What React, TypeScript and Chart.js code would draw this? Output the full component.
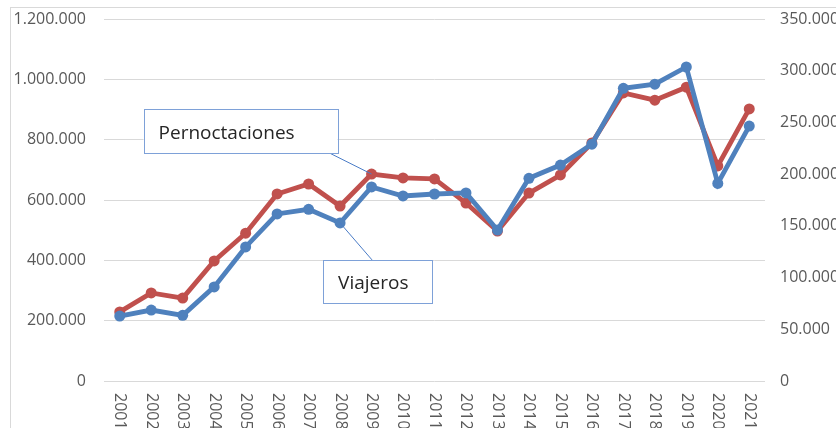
import React, { useEffect, useRef } from "react";
import { Chart, registerables } from "chart.js";

Chart.register(...registerables);

const years = ["2001","2002","2003","2004","2005","2006","2007","2008","2009","2010","2011","2012","2013","2014","2015","2016","2017","2018","2019","2020","2021"];
const pernoctaciones = [229000, 292000, 275000, 398000, 490000, 620000, 653000, 580000, 686000, 673000, 670000, 590000, 497000, 623000, 683000, 789000, 955000, 931000, 974000, 713000, 902000];
const viajeros = [62800, 68600, 63500, 91000, 129600, 161500, 166000, 152800, 187600, 178900, 180800, 181800, 146000, 196000, 208800, 229000, 283000, 287000, 303600, 191000, 246500];
const leftTicks = { min: 0, max: 1200000, step: 200000 };
const rightTicks = { min: 0, max: 350000, step: 50000 };
const calloutLabels = { red: "Pernoctaciones", blue: "Viajeros" };

const RED = "#c0504d";
const BLUE = "#4f81bd";
const FONT = "'Open Sans', 'Noto Sans', sans-serif";

const fmt = (v: number) => String(v).replace(/\B(?=(\d{3})+(?!\d))/g, ".");

const decorPlugin = {
  id: "decor",
  beforeDraw(chart: any) {
    const ctx = chart.ctx;
    ctx.save();
    ctx.fillStyle = "#ffffff";
    ctx.fillRect(0, 0, chart.width, chart.height);
    ctx.strokeStyle = "#d9d9d9";
    ctx.lineWidth = 1;
    ctx.strokeRect(10.5, 7.5, chart.width + 50, chart.height + 50);
    ctx.restore();
  },
  afterDraw(chart: any) {
    const ctx = chart.ctx;
    const xs = chart.scales.x;
    ctx.save();
    ctx.font = `16px ${FONT}`;
    ctx.fillStyle = "#595959";
    ctx.textAlign = "left";
    ctx.textBaseline = "middle";
    years.forEach((y, i) => {
      const x = xs.getPixelForValue(i);
      ctx.save();
      ctx.translate(x, chart.chartArea.bottom + 12);
      ctx.rotate(Math.PI / 2);
      ctx.fillText(y, 0, 0);
      ctx.restore();
    });

    const metaRed = chart.getDatasetMeta(1);
    const metaBlue = chart.getDatasetMeta(0);
    const pr = metaRed.data[8];
    const pb = metaBlue.data[7];
    ctx.font = `19px ${FONT}`;
    ctx.textBaseline = "alphabetic";

    if (pr) {
      const bx = pr.x - 228, by = pr.y - 65, bw = 194, bh = 44;
      ctx.strokeStyle = "#4a7cc7";
      ctx.lineWidth = 1;
      ctx.beginPath();
      ctx.moveTo(pr.x, pr.y);
      ctx.lineTo(pr.x - 42, by + bh);
      ctx.stroke();
      ctx.fillStyle = "#ffffff";
      ctx.fillRect(bx, by, bw, bh);
      ctx.strokeStyle = "#7ea1d8";
      ctx.strokeRect(Math.round(bx) + 0.5, Math.round(by) + 0.5, bw, bh);
      ctx.fillStyle = "#262626";
      ctx.fillText(calloutLabels.red, bx + 15, by + 30);
    }
    if (pb) {
      const bx = pb.x - 17, by = pb.y + 37, bw = 109, bh = 43;
      ctx.strokeStyle = "#4a7cc7";
      ctx.lineWidth = 1;
      ctx.beginPath();
      ctx.moveTo(pb.x, pb.y);
      ctx.lineTo(pb.x + 32, by);
      ctx.stroke();
      ctx.fillStyle = "#ffffff";
      ctx.fillRect(bx, by, bw, bh);
      ctx.strokeStyle = "#7ea1d8";
      ctx.strokeRect(Math.round(bx) + 0.5, Math.round(by) + 0.5, bw, bh);
      ctx.fillStyle = "#262626";
      ctx.fillText(calloutLabels.blue, bx + 15, by + 29);
    }
    ctx.restore();
  },
};

const fitY = (w: number) => (s: any) => {
  s.width = w;
  s.paddingTop = 0;
  s.paddingBottom = 0;
};

export default function App() {
  const ref = useRef<HTMLCanvasElement | null>(null);
  useEffect(() => {
    document.body.style.margin = "0";
    if (!ref.current) return;
    const chart = new Chart(ref.current, {
      type: "line",
      data: {
        labels: years,
        datasets: [
          {
            label: "Viajeros",
            data: viajeros,
            yAxisID: "y1",
            borderColor: BLUE,
            backgroundColor: BLUE,
            borderWidth: 4.8,
            pointRadius: 5.5,
            pointBorderWidth: 0,
            pointBackgroundColor: BLUE,
            tension: 0,
            order: 0,
          },
          {
            label: "Pernoctaciones",
            data: pernoctaciones,
            yAxisID: "y",
            borderColor: RED,
            backgroundColor: RED,
            borderWidth: 4.8,
            pointRadius: 5.5,
            pointBorderWidth: 0,
            pointBackgroundColor: RED,
            tension: 0,
            order: 1,
          },
        ],
      },
      options: {
        responsive: false,
        animation: false,
        layout: { padding: { top: 19, left: 0, right: 0, bottom: 0 } },
        plugins: {
          legend: { display: false },
          tooltip: { enabled: false },
          title: { display: false },
        },
        scales: {
          x: {
            type: "category",
            offset: true,
            grid: { display: false },
            border: { display: false },
            ticks: { display: false },
            afterFit: (s: any) => { s.height = 47; s.paddingLeft = 0; s.paddingRight = 0; },
          },
          y: {
            position: "left",
            min: leftTicks.min,
            max: leftTicks.max,
            grid: { color: "#d9d9d9", lineWidth: 1, drawTicks: false },
            border: { display: false },
            ticks: {
              stepSize: leftTicks.step,
              padding: 18,
              color: "#595959",
              font: { family: FONT, size: 16 },
              callback: (v: any) => fmt(Number(v)),
            },
            afterFit: fitY(104),
          },
          y1: {
            position: "right",
            min: rightTicks.min,
            max: rightTicks.max,
            grid: { display: false, drawTicks: false },
            border: { display: false },
            ticks: {
              stepSize: rightTicks.step,
              padding: 15,
              color: "#595959",
              font: { family: FONT, size: 16 },
              callback: (v: any) => fmt(Number(v)),
            },
            afterFit: fitY(71),
          },
        },
      },
      plugins: [decorPlugin],
    } as any);
    return () => chart.destroy();
  }, []);
  return (
    <div style={{ width: 836, height: 428 }}>
      <canvas ref={ref} width={836} height={428} style={{ display: "block" }} />
    </div>
  );
}
